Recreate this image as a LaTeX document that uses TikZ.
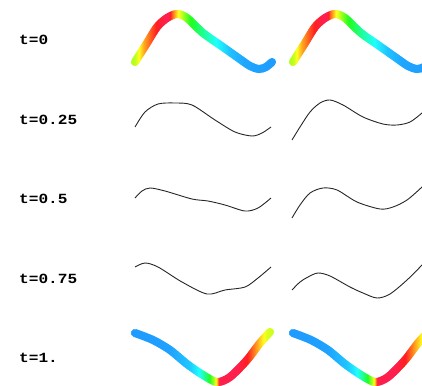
\documentclass[tikz,border=0pt]{standalone}
\usepackage{fontspec}
\newfontfamily\labelfont[FakeStretch=1.15]{Liberation Mono}

% hue (degrees) against x, as x_a/h_a/x_b/h_b pieces
\newcommand\huestart{129/80/135/80, 135/80/140/58, 140/58/145/35,
  145/35/157/0, 157/0/165/-12, 165/-12/170/-12, 170/-12/173/20,
  173/20/178/55, 178/55/190/115, 190/115/203/150, 203/150/217/180,
  217/180/230/196, 230/196/245/204, 245/204/280/207}
\newcommand\hueend{129/207/170/205, 170/205/190/195, 190/195/200/180,
  200/180/209/130, 209/130/215/80, 215/80/218/40, 218/40/220/-12,
  220/-12/238/-12, 238/-12/248/0, 248/0/256/30, 256/30/263/55,
  263/55/268/70, 268/70/280/80}

\newcommand\gethue[2]{%
  \xdef\rbhue{0}%
  \foreach \xa/\ha/\xb/\hb in #1 {%
    \pgfmathtruncatemacro\rbin{(#2>=\xa)&&(#2<\xb)}%
    \ifnum\rbin=1
      \pgfmathsetmacro\rbh{\ha+(\hb-\ha)*(#2-\xa)/(\xb-\xa)}\xdef\rbhue{\rbh}%
    \fi}%
  \pgfmathsetmacro\rbh{mod(\rbhue+360,360)/360}%
  \definecolor{rbcol}{hsb}{\rbh,1,1}}

% #1 hue pieces, #2/#3 rows of the strip, #4 coordinates of the curve
\newcommand\rainbowcurve[4]{%
  \foreach \sx in {130,...,278} {%
    \gethue{#1}{\sx}%
    \begin{scope}
      \clip (\sx-0.6,#2) rectangle (\sx+0.6,#3);
      \draw[rainbow] plot[smooth] coordinates {#4};
    \end{scope}}}

\begin{document}
\begin{tikzpicture}[x=1pt, y=-1pt,
  every node/.style={font=\labelfont\bfseries\fontsize{14}{14}\selectfont,
    inner sep=0pt, anchor=west},
  wave/.style={line width=0.9pt, black!85},
  rainbow/.style={rbcol, line width=8pt, line cap=round}]

  \useasboundingbox (0,0) rectangle (422,385);
  \clip (0,0) rectangle (422,385);

  \node (t0)   at (19,40)    {t=0};
  \node (t25)  at (19,119.5) {t=0.25};
  \node (t50)  at (19,199)   {t=0.5};
  \node (t75)  at (19,278.5) {t=0.75};
  \node (t100) at (19,358)   {t=1.};

  % left column
  \rainbowcurve{\huestart}{0}{95}{(135,62) (147,43) (157,27) (167,18)
    (177,14) (187,18) (203,33) (220,45) (237,57) (250,66) (259,69)
    (266,67) (272,62)}
  \draw[wave] plot[smooth] coordinates {(135,127) (145,112) (158,104)
    (175,103) (192,105) (215,120) (235,132) (252,136) (262,133) (271,127)};
  \draw[wave] plot[smooth] coordinates {(135,198) (142,191) (150,188)
    (165,191) (192,199) (208,201) (225,205) (245,211) (258,208) (271,198)};
  \draw[wave] plot[smooth] coordinates {(135,267) (145,263) (158,267)
    (182,282) (207,294) (225,290) (245,287) (258,278) (271,267)};
  \rainbowcurve{\hueend}{300}{395}{(135,333) (153,340) (170,350) (187,364)
    (203,375) (217,382) (230,377) (247,360) (260,343) (270,332)}

  % right column
  \begin{scope}[xshift=158pt]
    \rainbowcurve{\huestart}{0}{95}{(135,62) (147,43) (157,27) (167,18)
      (177,14) (187,18) (203,33) (220,45) (237,57) (250,66) (259,69)
      (266,67) (272,62)}
    \rainbowcurve{\hueend}{300}{395}{(135,333) (153,340) (170,350)
      (187,364) (203,375) (217,382) (230,377) (247,360) (260,343)
      (270,332)}
  \end{scope}
  \draw[wave] plot[smooth] coordinates {(292,140) (300,127) (310,112)
    (320,103) (330,100) (343,105) (363,117) (383,124) (397,125) (410,122)
    (422,113) (432,104)};
  \draw[wave] plot[smooth] coordinates {(292,218) (300,205) (310,193)
    (323,188) (337,190) (357,202) (380,209) (393,207) (407,200) (422,187)
    (432,177)};
  \draw[wave] plot[smooth] coordinates {(292,290) (300,282) (308,277)
    (318,273) (330,276) (350,287) (363,293) (377,298) (390,294) (407,280)
    (422,265) (432,254)};

\end{tikzpicture}
\end{document}
